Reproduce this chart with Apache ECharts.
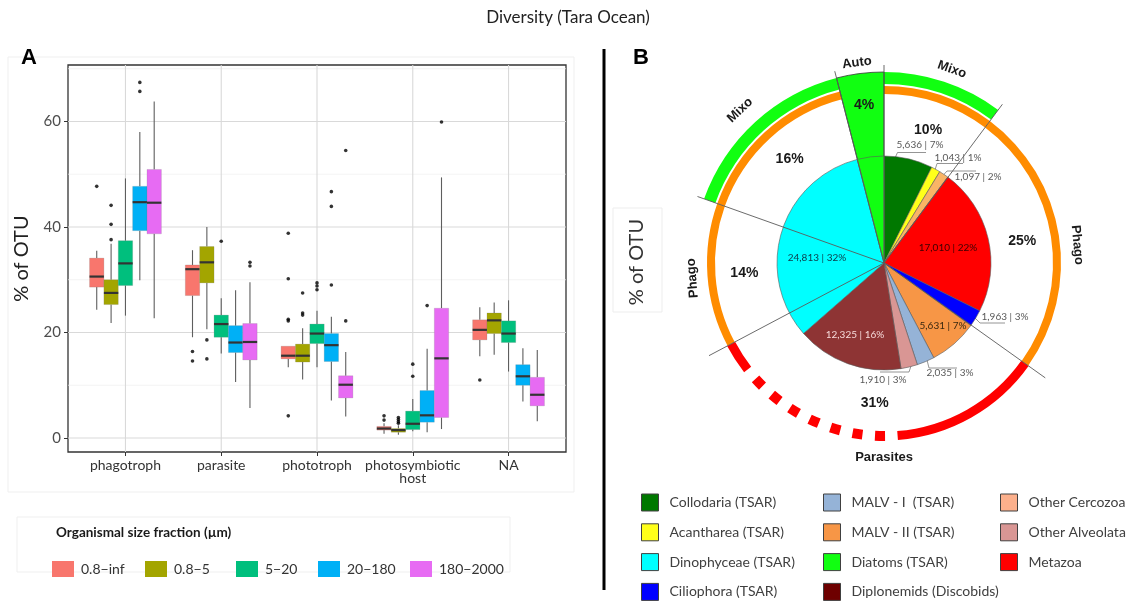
<!DOCTYPE html>
<html><head><meta charset="utf-8">
<script src="https://cdn.jsdelivr.net/npm/echarts@6/dist/echarts.min.js"></script>
<style>html,body{margin:0;padding:0;background:#fff}#c{width:1137px;height:603px}</style>
</head><body><div id="c"></div>
<script>
// ================= Panel A data =================
const categories = ['phagotroph', 'parasite', 'phototroph', 'photosymbiotic\nhost', 'NA'];
const fractions = ['0.8−inf', '0.8−5', '5−20', '20−180', '180−2000'];
// per category: [lower whisker, Q1, median, Q3, upper whisker]
const box_08_inf = [[24.3, 28.6, 30.6, 34.1, 35.5], [19.1, 27.0, 32.0, 32.8, 35.6], [13.4, 15.0, 15.6, 17.4, 17.4], [0.8, 1.5, 1.8, 2.2, 2.8], [15.5, 18.6, 20.5, 22.4, 24.8]];
const box_08_5 = [[21.8, 25.3, 27.5, 30.0, 36.8], [20.6, 29.4, 33.3, 36.3, 40.0], [11.1, 14.4, 15.6, 17.8, 20.8], [0.6, 1.1, 1.5, 1.8, 2.4], [15.8, 19.8, 22.3, 23.7, 25.7]];
const box_5_20 = [[23.2, 28.9, 33.1, 37.4, 49.2], [16.0, 19.1, 21.6, 23.3, 26.5], [13.4, 17.9, 19.8, 21.6, 24.1], [1.3, 1.6, 2.7, 5.1, 7.4], [12.6, 18.1, 19.8, 22.2, 26.1]];
const box_20_180 = [[29.9, 39.3, 44.7, 47.7, 58.0], [10.6, 16.2, 18.1, 21.3, 28.0], [7.1, 14.5, 17.6, 19.8, 23.0], [1.1, 3.0, 4.3, 9.0, 16.9], [6.9, 10.0, 11.7, 13.9, 17.0]];
const box_180_2000 = [[22.7, 38.7, 44.6, 50.9, 63.8], [5.7, 14.8, 18.2, 21.7, 29.5], [4.1, 7.6, 10.1, 11.8, 16.3], [1.7, 3.9, 15.1, 24.6, 49.4], [3.2, 6.1, 8.2, 11.5, 16.7]];
// outliers: [category index, value]
const out_08_inf = [[0, 47.7], [1, 16.4], [1, 14.6], [2, 38.8], [2, 30.2], [2, 22.5], [2, 22.2], [2, 4.2], [3, 4.2], [3, 3.4], [4, 11.0]];
const out_08_5 = [[0, 44.1], [0, 40.5], [0, 37.6], [1, 18.6], [1, 15.0], [2, 27.5], [2, 23.7], [2, 23.3], [3, 3.9], [3, 3.5], [3, 3.1], [3, 2.8]];
const out_5_20 = [[1, 37.3], [2, 29.4], [2, 28.8], [2, 28.1], [3, 14.0], [3, 11.7]];
const out_20_180 = [[0, 67.4], [0, 65.7], [2, 46.7], [2, 43.9], [2, 29.0], [3, 25.1]];
const out_180_2000 = [[1, 33.3], [1, 32.6], [2, 54.5], [2, 22.2], [3, 59.9]];
const yLabelTicks = [0, 20, 40, 60];
const yMinorBreaks = [10, 30, 50, 70];

// ================= Panel B data =================
const taxa = ['Collodaria (TSAR)', 'Acantharea (TSAR)', 'Other Cercozoa', 'Metazoa', 'Ciliophora (TSAR)', 'MALV - II (TSAR)', 'MALV - I  (TSAR)', 'Other Alveolata', 'Diplonemids (Discobids)', 'Dinophyceae (TSAR)', 'Diatoms (TSAR)'];
const taxaOTU = [5636, 1043, 1097, 17010, 1963, 5631, 2035, 1910, 12325, 24813, 3085];
const taxaPct = ['7%', '1%', '2%', '22%', '3%', '7%', '3%', '3%', '16%', '32%', ''];
const groupNames = ['Mixo', 'Phago', 'Parasites', 'Phago', 'Mixo', 'Auto'];
const groupShare = [10.2, 24.65, 32.4, 13.2, 15.55, 4.0];
const groupPct = ['10%', '25%', '31%', '14%', '16%', '4%'];
const parasiteParts = [13.9, 15.7, 2.8]; // solid, dashed, solid
const legendCol1 = ['Collodaria (TSAR)', 'Acantharea (TSAR)', 'Dinophyceae (TSAR)', 'Ciliophora (TSAR)'];
const legendCol2 = ['MALV - I  (TSAR)', 'MALV - II (TSAR)', 'Diatoms (TSAR)', 'Diplonemids (Discobids)'];
const legendCol3 = ['Other Cercozoa', 'Other Alveolata', 'Metazoa'];

// ================= styles / layout =================
const boxSets = [box_08_inf, box_08_5, box_5_20, box_20_180, box_180_2000];
const outSets = [out_08_inf, out_08_5, out_5_20, out_20_180, out_180_2000];
const fracColors = ['#F8766D', '#A3A500', '#00BF7D', '#00B0F6', '#E76BF3'];
const dodge = [-0.3, -0.15, 0, 0.15, 0.3];
const boxW = 0.15;
const X_MIN = 0.4, X_MAX = 5.6, Y_MIN = -2.65, Y_MAX = 70.7;
const taxonColor = {
  'Collodaria (TSAR)': '#007800', 'Acantharea (TSAR)': '#ffff1a', 'Other Cercozoa': '#f9b466', 'Metazoa': '#ff0000',
  'Ciliophora (TSAR)': '#0000ff', 'MALV - II (TSAR)': '#f79646', 'MALV - I  (TSAR)': '#95b3d7', 'Other Alveolata': '#d99694',
  'Diplonemids (Discobids)': '#8e3434', 'Dinophyceae (TSAR)': '#00ffff', 'Diatoms (TSAR)': '#11ff11'
};
const legendOverride = { 'Diplonemids (Discobids)': '#6e0000', 'Other Cercozoa': '#fcb08c' };
const PIE_C = [884, 263];
const pieLabelLayout = [
  { x: 920, y: 145, line: [[895, 158], [897.5, 152.5], [926, 152.5]] },
  { x: 958, y: 157.5, line: [[935, 170], [937, 163.5], [963, 163.5]] },
  { x: 978, y: 177, line: [[943, 175.5], [947, 171], [976, 171]] },
  { x: 948, y: 248, inside: '#3a0000' },
  { x: 1005, y: 317, line: [[975, 318], [980, 323], [1005, 323]] },
  { x: 943, y: 326, inside: '#3a2810' },
  { x: 950, y: 373, line: [[927, 360], [929, 368], [957, 368]] },
  { x: 883, y: 380, line: [[911, 366], [909, 372], [880, 372]] },
  { x: 855, y: 335, inside: '#f6dada' },
  { x: 817, y: 258, inside: '#0d3a48' },
  null
];
const pctR = [140, 140, 140, 140, 140, 159];
const nameR = [205, 194, 194, 192, 210, 202];
const nameShift = [1, 3.6, -3.8, -0.4, -0.9, -0.5];

function fmt(n) { return String(n).replace(/\B(?=(\d{3})+(?!\d))/g, ','); }

// ---------- build series ----------
const series = [];
// grid lines for panel A
const gridData = [];
yLabelTicks.forEach(v => gridData.push([v, 0]));
yMinorBreaks.forEach(v => gridData.push([v, 1]));
categories.forEach((c, i) => gridData.push([i + 1, 2]));
series.push({
  type: 'custom', name: 'grid', silent: true, z: 1, xAxisIndex: 0, yAxisIndex: 0,
  data: gridData,
  renderItem: function (params, api) {
    const v = api.value(0), k = api.value(1);
    let a, b;
    if (k === 2) { a = api.coord([v, Y_MIN]); b = api.coord([v, Y_MAX]); }
    else { a = api.coord([X_MIN, v]); b = api.coord([X_MAX, v]); }
    return { type: 'line', shape: { x1: a[0], y1: a[1], x2: b[0], y2: b[1] },
      style: { stroke: k === 1 ? '#eeeeee' : '#d9d9d9', lineWidth: k === 1 ? 0.7 : 1.1 } };
  }
});
fractions.forEach((f, k) => {
  series.push({
    type: 'custom', name: f, z: 3, xAxisIndex: 0, yAxisIndex: 0,
    itemStyle: { color: fracColors[k] },
    data: boxSets[k].map((b, i) => [i + 1].concat(b)),
    encode: { x: 0, y: [1, 2, 3, 4, 5] },
    renderItem: function (params, api) {
      const x = api.value(0) + dodge[k];
      const lo = api.value(1), q1 = api.value(2), md = api.value(3), q3 = api.value(4), hi = api.value(5);
      const tl = api.coord([x - boxW / 2, q3]), br = api.coord([x + boxW / 2, q1]);
      const pHi = api.coord([x, hi]), pLo = api.coord([x, lo]);
      const m1 = api.coord([x - boxW / 2, md]), m2 = api.coord([x + boxW / 2, md]);
      const col = api.visual('color');
      return { type: 'group', children: [
        { type: 'line', shape: { x1: pHi[0], y1: pHi[1], x2: pHi[0], y2: tl[1] }, style: { stroke: '#5e5e5e', lineWidth: 1.1 } },
        { type: 'line', shape: { x1: pLo[0], y1: br[1], x2: pLo[0], y2: pLo[1] }, style: { stroke: '#5e5e5e', lineWidth: 1.1 } },
        { type: 'rect', shape: { x: tl[0], y: tl[1], width: br[0] - tl[0], height: br[1] - tl[1] }, style: { fill: col, stroke: 'rgba(120,120,120,0.35)', lineWidth: 0.6 } },
        { type: 'line', shape: { x1: m1[0], y1: m1[1], x2: m2[0], y2: m2[1] }, style: { stroke: '#333333', lineWidth: 2.2 } }
      ] };
    }
  });
});
fractions.forEach((f, k) => {
  series.push({
    type: 'scatter', name: 'outliers ' + f, z: 4, silent: true, xAxisIndex: 0, yAxisIndex: 0,
    symbol: 'circle', symbolSize: 3.6, itemStyle: { color: '#000' },
    data: outSets[k].map(o => [o[0] + 1 + dodge[k], o[1]])
  });
});

// Auto wedge (diatoms extending to outer ring)
series.push({
  type: 'pie', name: 'groups-wedge', silent: true, z: 2, center: PIE_C, radius: [0, 191],
  startAngle: 90, clockwise: true, label: { show: false }, labelLine: { show: false },
  data: groupNames.map((g, i) => ({ name: g + i, value: groupShare[i],
    itemStyle: g === 'Auto' ? { color: '#11ff11', borderColor: '#333', borderWidth: 0.8 } : { color: 'rgba(0,0,0,0)', borderWidth: 0 } }))
});
// composition pie
series.push({
  type: 'pie', name: 'composition', silent: true, z: 3, center: PIE_C, radius: [0, 107],
  startAngle: 90, clockwise: true, avoidLabelOverlap: false,
  itemStyle: { borderColor: '#5a5a5a', borderWidth: 0.6 },
  label: { show: true, position: 'outside', fontFamily: 'Lato', fontSize: 10, color: '#595959',
    formatter: p => fmt(taxaOTU[p.dataIndex]) + ' | ' + taxaPct[p.dataIndex] },
  labelLine: { show: true, length: 5, length2: 5, lineStyle: { color: '#7a7a7a', width: 0.8 } },
  labelLayout: function (p) {
    const L = pieLabelLayout[p.dataIndex];
    if (!L) return {};
    const o = { x: L.x, y: L.y, align: 'center', verticalAlign: 'middle' };
    if (L.line) o.labelLinePoints = L.line;
    return o;
  },
  data: taxa.map((n, i) => {
    const L = pieLabelLayout[i];
    const d = { name: n, value: taxaOTU[i], itemStyle: { color: taxonColor[n] } };
    if (!L) { d.label = { show: false }; d.labelLine = { show: false }; }
    else if (L.inside) { d.label = { position: 'inside', color: L.inside }; d.labelLine = { show: false }; }
    return d;
  })
});
// functional rings
const segs = [];
let acc = 0;
groupNames.forEach((g, i) => {
  const s = acc, e = acc + groupShare[i]; acc = e;
  if (g === 'Mixo') segs.push([s, e, 1]);
  else if (g === 'Phago') segs.push([s, e, 0]);
  else if (g === 'Parasites') { let a = s; parasiteParts.forEach((v, j) => { segs.push([a, a + v, j === 1 ? 3 : 2]); a += v; }); }
});
function angOf(api, cs, a) { const p = api.coord([150, a]); return Math.atan2(p[1] - cs.cy, p[0] - cs.cx); }
series.push({
  type: 'custom', name: 'rings', coordinateSystem: 'polar', polarIndex: 0, silent: true, z: 2,
  data: segs,
  renderItem: function (params, api) {
    const cs = params.coordSys;
    const s = angOf(api, cs, api.value(0));
    let e = angOf(api, cs, api.value(1));
    while (e <= s) e += 2 * Math.PI;
    const k = api.value(2);
    const sc = cs.r / 198;
    const ch = [];
    if (k === 0 || k === 1) ch.push({ type: 'sector', shape: { cx: cs.cx, cy: cs.cy, r0: 169 * sc, r: 177 * sc, startAngle: s, endAngle: e, clockwise: true }, style: { fill: '#ff8c00' } });
    if (k === 1) ch.push({ type: 'sector', shape: { cx: cs.cx, cy: cs.cy, r0: 179 * sc, r: 191 * sc, startAngle: s, endAngle: e, clockwise: true }, style: { fill: '#11ff11' } });
    if (k === 2) ch.push({ type: 'sector', shape: { cx: cs.cx, cy: cs.cy, r0: 168.5 * sc, r: 177.5 * sc, startAngle: s, endAngle: e, clockwise: true }, style: { fill: '#ff0000' } });
    if (k === 3) ch.push({ type: 'arc', shape: { cx: cs.cx, cy: cs.cy, r: 173 * sc, startAngle: s, endAngle: e, clockwise: true }, style: { fill: null, stroke: '#ff0000', lineWidth: 10, lineDash: [10, 12.6], lineDashOffset: 10, lineCap: 'butt' } });
    return { type: 'group', children: ch };
  }
});
// boundary lines
const bounds = [];
acc = 0;
groupShare.forEach(v => { bounds.push([acc]); acc += v; });
series.push({
  type: 'custom', name: 'bounds', coordinateSystem: 'polar', polarIndex: 0, silent: true, z: 5,
  data: bounds,
  renderItem: function (params, api) {
    const a = api.value(0);
    const c = api.coord([0, a]), p = api.coord([198, a]);
    return { type: 'line', shape: { x1: c[0], y1: c[1], x2: p[0], y2: p[1] }, style: { stroke: '#5a5a5a', lineWidth: 0.9 } };
  }
});
// group labels
const mids = [];
acc = 0;
groupShare.forEach((v, i) => { mids.push([acc + v / 2, i]); acc += v; });
series.push({
  type: 'custom', name: 'group-labels', coordinateSystem: 'polar', polarIndex: 0, silent: true, z: 6,
  data: mids,
  renderItem: function (params, api) {
    const m = api.value(0), i = api.value(1);
    const p = api.coord([pctR[i], m]);
    const theta = m / 100 * 360 + nameShift[i];
    const q = api.coord([nameR[i], theta / 360 * 100]);
    let rho;
    if (theta <= 95) rho = theta; else if (theta >= 255) rho = theta - 360; else rho = 0;
    return { type: 'group', children: [
      { type: 'text', x: p[0], y: p[1], style: { text: groupPct[i], font: 'bold 14px "Liberation Sans"', fill: '#1a1a1a', align: 'center', verticalAlign: 'middle', textAlign: 'center', textVerticalAlign: 'middle' } },
      { type: 'text', x: q[0], y: q[1], rotation: -rho * Math.PI / 180, style: { text: groupNames[i], font: 'bold 13px "Liberation Sans"', fill: '#1a1a1a', align: 'center', verticalAlign: 'middle', textAlign: 'center', textVerticalAlign: 'middle' } }
    ] };
  }
});

// ---------- legends ----------
const legends = [];
const legA_left = [52, 145, 236, 318, 410];
fractions.forEach((f, k) => legends.push({
  data: [f], left: legA_left[k], top: 561, padding: 0, itemWidth: 22, itemHeight: 16, icon: 'rect',
  selectedMode: false, textStyle: { fontFamily: 'Lato', fontSize: 14, color: '#333', padding: [0, 0, 0, 2] }
}));
[[legendCol1, 641], [legendCol2, 823], [legendCol3, 1000]].forEach(([col, left]) => legends.push({
  data: col.map(n => legendOverride[n] ? { name: n, itemStyle: { color: legendOverride[n] } } : { name: n }),
  orient: 'vertical', left: left, top: 493.5, height: 160, padding: 0, itemWidth: 17, itemHeight: 17, itemGap: 11.8, icon: 'rect',
  selectedMode: false, itemStyle: { borderColor: '#404040', borderWidth: 1 },
  textStyle: { fontFamily: 'Lato', fontSize: 14, color: '#404040', padding: [0, 0, 0, 6] }
}));

const option = {
  animation: false,
  backgroundColor: '#ffffff',
  textStyle: { fontFamily: 'Lato' },
  grid: [{ left: 68, top: 65, width: 498, height: 387, show: true, borderColor: '#333333', borderWidth: 1.3, backgroundColor: '#ffffff' }],
  xAxis: [{
    type: 'value', min: X_MIN, max: X_MAX, gridIndex: 0,
    axisLine: { show: false, onZero: false },
    axisTick: { show: true, customValues: [1, 2, 3, 4, 5], length: 4, lineStyle: { color: '#333' } },
    axisLabel: { customValues: [1, 2, 3, 4, 5], formatter: v => categories[Math.round(v) - 1], color: '#333', fontSize: 14, fontFamily: 'Lato', margin: 7, lineHeight: 13 },
    splitLine: { show: false }
  }],
  yAxis: [{
    type: 'value', min: Y_MIN, max: Y_MAX, gridIndex: 0,
    axisLine: { show: false, onZero: false },
    axisTick: { show: true, customValues: yLabelTicks, length: 4, lineStyle: { color: '#333' } },
    axisLabel: { customValues: yLabelTicks, color: '#4d4d4d', fontSize: 15, fontFamily: 'Lato', margin: 7 },
    splitLine: { show: false },
    name: '% of OTU', nameLocation: 'middle', nameGap: 36, nameRotate: 90,
    nameTextStyle: { fontSize: 20, color: '#222', fontFamily: 'Lato' }
  }],
  polar: { center: PIE_C, radius: 198 },
  angleAxis: { type: 'value', min: 0, max: 100, startAngle: 90, clockwise: true, show: false },
  radiusAxis: { type: 'value', min: 0, max: 198, show: false },
  legend: legends,
  graphic: [
    { type: 'text', x: 568, y: 18, style: { text: 'Diversity (Tara Ocean)', font: '17px Lato', fill: '#222', align: 'center', verticalAlign: 'middle', textAlign: 'center', textVerticalAlign: 'middle' } },
    { type: 'rect', shape: { x: 8, y: 57, width: 566, height: 435 }, style: { fill: null, stroke: '#efefef', lineWidth: 1 }, z: -1 },
    { type: 'rect', shape: { x: 17, y: 517, width: 493, height: 55 }, style: { fill: null, stroke: '#efefef', lineWidth: 1 }, z: -1 },
    { type: 'text', x: 29, y: 58, style: { text: 'A', font: 'bold 22px "Liberation Sans"', fill: '#000', align: 'center', verticalAlign: 'middle', textAlign: 'center', textVerticalAlign: 'middle' } },
    { type: 'text', x: 641, y: 58, style: { text: 'B', font: 'bold 22px "Liberation Sans"', fill: '#000', align: 'center', verticalAlign: 'middle', textAlign: 'center', textVerticalAlign: 'middle' } },
    { type: 'text', x: 56, y: 533, style: { text: 'Organismal size fraction (µm)', font: 'bold 13.5px Lato', fill: '#1a1a1a', align: 'left', verticalAlign: 'middle', textAlign: 'left', textVerticalAlign: 'middle' } },
    { type: 'line', shape: { x1: 604, y1: 49, x2: 604, y2: 590 }, style: { stroke: '#000', lineWidth: 3 } },
    { type: 'rect', shape: { x: 613, y: 208, width: 49, height: 104 }, style: { fill: null, stroke: '#ededed', lineWidth: 1 }, z: -1 },
    { type: 'text', x: 637, y: 262, rotation: Math.PI / 2, style: { text: '% of OTU', font: '20px Lato', fill: '#333', align: 'center', verticalAlign: 'middle', textAlign: 'center', textVerticalAlign: 'middle' } }
  ],
  series: series
};
const chart = echarts.init(document.getElementById('c'), null, { renderer: 'canvas' });
chart.setOption(option);
</script>
</body></html>
